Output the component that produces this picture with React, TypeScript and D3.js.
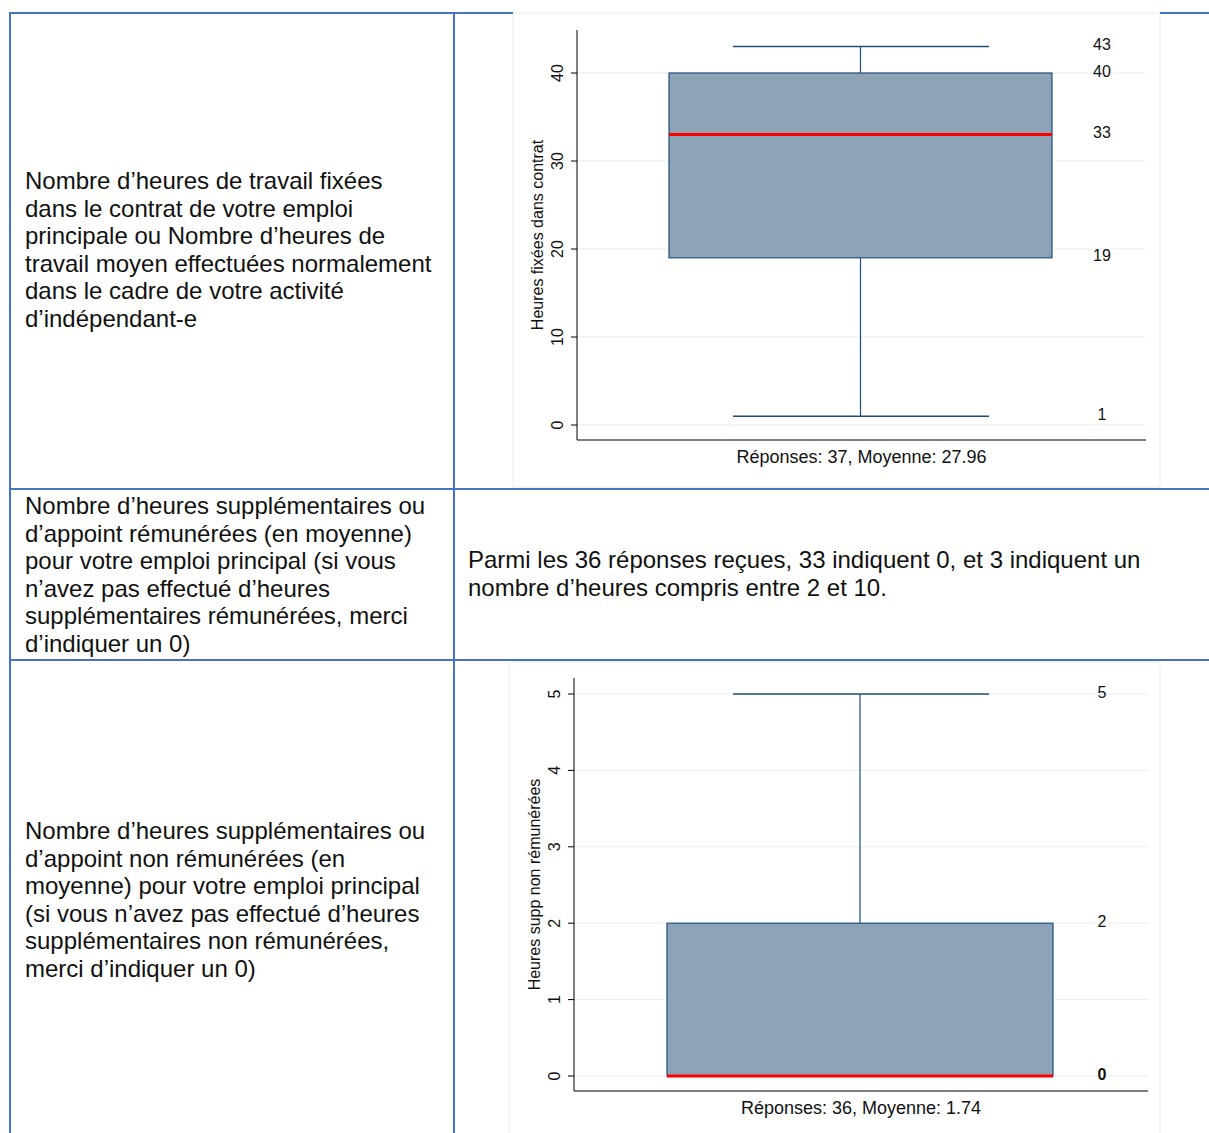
import React from "react";
import * as d3 from "d3";

const leftTexts: string[][] = [
  [
    "Nombre d’heures de travail fixées",
    "dans le contrat de votre emploi",
    "principale ou Nombre d’heures de",
    "travail moyen effectuées normalement",
    "dans le cadre de votre activité",
    "d’indépendant-e",
  ],
  [
    "Nombre d’heures supplémentaires ou",
    "d’appoint rémunérées (en moyenne)",
    "pour votre emploi principal (si vous",
    "n’avez pas effectué d’heures",
    "supplémentaires rémunérées, merci",
    "d’indiquer un 0)",
  ],
  [
    "Nombre d’heures supplémentaires ou",
    "d’appoint non rémunérées (en",
    "moyenne) pour votre emploi principal",
    "(si vous n’avez pas effectué d’heures",
    "supplémentaires non rémunérées,",
    "merci d’indiquer un 0)",
  ],
];
const middleText: string[] = [
  "Parmi les 36 réponses reçues, 33 indiquent 0, et 3 indiquent un",
  "nombre d’heures compris entre 2 et 10.",
];

// Chart 1
const c1Stats = { min: 1, q1: 19, median: 33, q3: 40, max: 43 };
const c1Labels = [43, 40, 33, 19, 1];
const c1Ticks = [0, 10, 20, 30, 40];
const c1YTitle = "Heures fixées dans contrat";
const c1Caption = "Réponses: 37, Moyenne: 27.96";

// Chart 2
const c2Stats = { min: 0, q1: 0, median: 0, q3: 2, max: 5 };
const c2Labels = [5, 2, 0];
const c2Ticks = [0, 1, 2, 3, 4, 5];
const c2YTitle = "Heures supp non rémunérées";
const c2Caption = "Réponses: 36, Moyenne: 1.74";

const BLUE = "#4472C4";
const FONT = "Liberation Sans, Arial, sans-serif";

type Stats = { min: number; q1: number; median: number; q3: number; max: number };

function BoxChart(props: {
  panel: [number, number, number, number];
  axisX: number;
  axisTop: number;
  axisBottom: number;
  xEnd: number;
  y0: number;
  y1: number;
  domain: [number, number];
  ticks: number[];
  stats: Stats;
  labels: number[];
  boldLabel?: number;
  yTitle: string;
  titleX: number;
  caption: string;
  captionY: number;
  box: [number, number];
  cap: [number, number];
}) {
  const y = d3.scaleLinear().domain(props.domain).range([props.y0, props.y1]);
  const s = props.stats;
  const cx = (props.box[0] + props.box[1]) / 2;
  const [px, py, pw, ph] = props.panel;
  return (
    <g>
      <rect x={px} y={py} width={pw} height={ph} fill="#ffffff" stroke="#e9eef0" strokeWidth={1} />
      {props.ticks.map((t) => (
        <line key={"g" + t} x1={props.axisX} x2={props.xEnd} y1={y(t)} y2={y(t)} stroke="#e8eef2" strokeWidth={1} />
      ))}
      <line x1={cx} x2={cx} y1={y(s.q3)} y2={y(s.max)} stroke="#1f4e79" strokeWidth={1.2} />
      <line x1={cx} x2={cx} y1={y(s.q1)} y2={y(s.min)} stroke="#1f4e79" strokeWidth={1.2} />
      <line x1={props.cap[0]} x2={props.cap[1]} y1={y(s.max)} y2={y(s.max)} stroke="#1f4e79" strokeWidth={1.5} />
      {s.min < s.q1 && (
        <line x1={props.cap[0]} x2={props.cap[1]} y1={y(s.min)} y2={y(s.min)} stroke="#1f4e79" strokeWidth={1.5} />
      )}
      <rect
        x={props.box[0]}
        y={y(s.q3)}
        width={props.box[1] - props.box[0]}
        height={y(s.q1) - y(s.q3)}
        fill="#8da4b8"
        stroke="#1f4e79"
        strokeWidth={1.2}
      />
      <line x1={props.box[0]} x2={props.box[1]} y1={y(s.median)} y2={y(s.median)} stroke="#ff0000" strokeWidth={3} />
      {props.labels.map((v) => (
        <text
          key={"l" + v}
          x={1102}
          y={y(v) - 2}
          dy="0.35em"
          textAnchor="middle"
          fontSize={16}
          fontFamily={FONT}
          fontWeight={v === props.boldLabel ? "bold" : "normal"}
          fill="#111"
        >
          {v}
        </text>
      ))}
      <line x1={props.axisX} x2={props.axisX} y1={props.axisTop} y2={props.axisBottom} stroke="#000" strokeWidth={1} />
      <line x1={props.axisX} x2={props.xEnd} y1={props.axisBottom} y2={props.axisBottom} stroke="#000" strokeWidth={1} />
      {props.ticks.map((t) => (
        <g key={"t" + t}>
          <line x1={props.axisX - 6} x2={props.axisX} y1={y(t)} y2={y(t)} stroke="#000" strokeWidth={1} />
          <text
            transform={`translate(${props.axisX - 20},${y(t)}) rotate(-90)`}
            textAnchor="middle"
            dy="0.35em"
            fontSize={16}
            fontFamily={FONT}
            fill="#111"
          >
            {t}
          </text>
        </g>
      ))}
      <text
        transform={`translate(${props.titleX},${(props.axisTop + props.axisBottom) / 2}) rotate(-90)`}
        textAnchor="middle"
        dy="0.35em"
        fontSize={16}
        fontFamily={FONT}
        fill="#111"
      >
        {props.yTitle}
      </text>
      <text
        x={(props.axisX + props.xEnd) / 2}
        y={props.captionY}
        textAnchor="middle"
        dy="0.35em"
        fontSize={18}
        fontFamily={FONT}
        fill="#111"
      >
        {props.caption}
      </text>
    </g>
  );
}

export default function App() {
  const rowTextTops = [189, 514, 839];
  return (
    <svg
      width={1209}
      height={1133}
      style={{ position: "absolute", left: 0, top: 0, background: "#fff" }}
    >
      <rect x={0} y={0} width={1209} height={1133} fill="#fff" />
      <BoxChart
        panel={[513, 13, 647, 474]}
        axisX={577}
        axisTop={30}
        axisBottom={440}
        xEnd={1146}
        y0={425}
        y1={73}
        domain={[0, 40]}
        ticks={c1Ticks}
        stats={c1Stats}
        labels={c1Labels}
        yTitle={c1YTitle}
        titleX={537}
        caption={c1Caption}
        captionY={457}
        box={[669, 1052]}
        cap={[733, 989]}
      />
      <BoxChart
        panel={[509, 662, 651, 480]}
        axisX={574}
        axisTop={678}
        axisBottom={1091}
        xEnd={1148}
        y0={1076}
        y1={694}
        domain={[0, 5]}
        ticks={c2Ticks}
        stats={c2Stats}
        labels={c2Labels}
        boldLabel={0}
        yTitle={c2YTitle}
        titleX={534}
        caption={c2Caption}
        captionY={1108}
        box={[667, 1053]}
        cap={[733, 989]}
      />
      <line x1={9} x2={513} y1={13} y2={13} stroke={BLUE} strokeWidth={2} />
      <line x1={1160} x2={1209} y1={13} y2={13} stroke={BLUE} strokeWidth={2} />
      <line x1={9} x2={1209} y1={489} y2={489} stroke={BLUE} strokeWidth={2} />
      <line x1={9} x2={1209} y1={660} y2={660} stroke={BLUE} strokeWidth={2} />
      <line x1={10} x2={10} y1={12} y2={1133} stroke={BLUE} strokeWidth={2} />
      <line x1={454} x2={454} y1={12} y2={1133} stroke={BLUE} strokeWidth={2} />
      {leftTexts.map((lines, i) =>
        lines.map((l, j) => (
          <text key={i + "-" + j} x={25} y={rowTextTops[i] + j * 27.5} fontSize={24} fontFamily={FONT} fill="#111">
            {l}
          </text>
        ))
      )}
      {middleText.map((l, j) => (
        <text key={"m" + j} x={468} y={568 + j * 27.5} fontSize={24} fontFamily={FONT} fill="#111">
          {l}
        </text>
      ))}
    </svg>
  );
}
